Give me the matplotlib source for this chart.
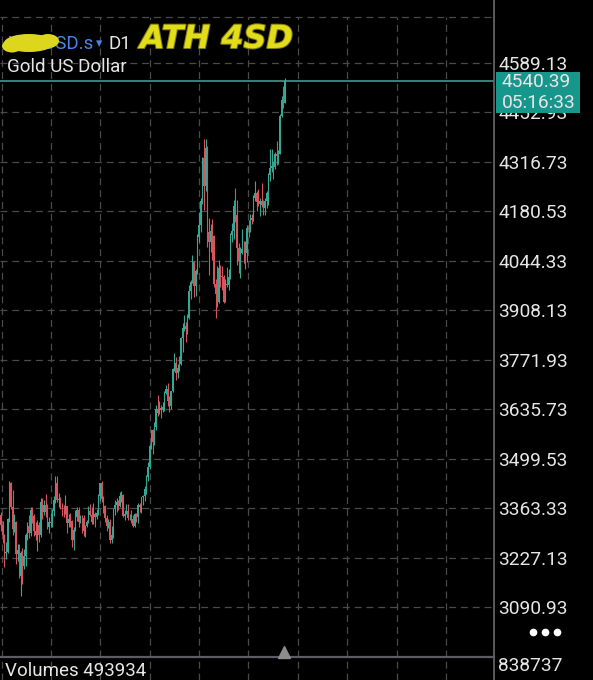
import matplotlib
matplotlib.use('Agg')
import matplotlib.pyplot as plt
from matplotlib.lines import Line2D
from matplotlib.patches import Rectangle, Ellipse
import matplotlib.patheffects as pe

plt.rcParams['font.family'] = ['Roboto', 'DejaVu Sans']
plt.rcParams['lines.scale_dashes'] = False

# daily bars, XAUUSD D1
opens = [3343, 3317, 3288, 3239, 3241, 3334, 3431, 3365, 3306, 3325,
         3236, 3248, 3177, 3240, 3203, 3230, 3290, 3314, 3294, 3357,
         3342, 3301, 3288, 3317, 3289, 3381, 3353, 3372, 3352, 3310,
         3325, 3322, 3354, 3386, 3433, 3385, 3389, 3370, 3369, 3368,
         3368, 3323, 3333, 3328, 3274, 3303, 3338, 3357, 3326, 3337,
         3336, 3301, 3313, 3324, 3355, 3343, 3324, 3347, 3339, 3350,
         3397, 3431, 3387, 3368, 3337, 3314, 3326, 3274, 3289, 3362,
         3373, 3381, 3369, 3397, 3398, 3341, 3348, 3356, 3335, 3336,
         3332, 3315, 3347, 3339, 3371, 3365, 3393, 3397, 3416, 3448,
         3476, 3533, 3578, 3545, 3586, 3636, 3626, 3640, 3634, 3643,
         3679, 3690, 3659, 3644, 3685, 3746, 3763, 3736, 3749, 3760,
         3833, 3858, 3866, 3856, 3887, 3960, 3985, 4040, 3975, 4017,
         4110, 4143, 4209, 4327, 4251, 4356, 4125, 4095, 4126, 4112,
         3981, 3952, 3930, 4024, 4002, 4000, 3932, 3980, 3977, 4000,
         4115, 4127, 4195, 4171, 4080, 4045, 4067, 4078, 4077, 4065,
         4136, 4131, 4163, 4157, 4218, 4232, 4205, 4200, 4208, 4197,
         4190, 4208, 4230, 4280, 4300, 4305, 4302, 4338, 4332, 4339,
         4444, 4488, 4479]
highs = [3353, 3327, 3292, 3269, 3336, 3438, 3435, 3414, 3346, 3327,
         3265, 3264, 3245, 3252, 3250, 3295, 3326, 3345, 3366, 3365,
         3348, 3325, 3330, 3326, 3392, 3392, 3385, 3403, 3375, 3338,
         3349, 3360, 3397, 3451, 3452, 3404, 3395, 3376, 3372, 3398,
         3370, 3348, 3350, 3330, 3310, 3358, 3366, 3365, 3343, 3343,
         3345, 3317, 3330, 3369, 3375, 3366, 3377, 3352, 3361, 3402,
         3433, 3439, 3396, 3373, 3345, 3334, 3334, 3315, 3363, 3385,
         3390, 3385, 3408, 3410, 3401, 3358, 3375, 3374, 3347, 3358,
         3345, 3350, 3351, 3378, 3376, 3394, 3399, 3423, 3453, 3490,
         3540, 3578, 3580, 3599, 3646, 3674, 3658, 3648, 3656, 3685,
         3703, 3707, 3672, 3687, 3749, 3791, 3779, 3761, 3782, 3834,
         3872, 3895, 3876, 3897, 3977, 3991, 4059, 4044, 4022, 4117,
         4179, 4218, 4330, 4379, 4381, 4360, 4161, 4147, 4160, 4115,
         3994, 4030, 4046, 4034, 4030, 4005, 3994, 4027, 4023, 4122,
         4148, 4211, 4245, 4211, 4092, 4083, 4132, 4098, 4099, 4143,
         4156, 4172, 4172, 4226, 4264, 4237, 4241, 4218, 4259, 4213,
         4218, 4236, 4285, 4353, 4351, 4318, 4343, 4375, 4350, 4449,
         4497, 4526, 4549]
lows = [3301, 3268, 3202, 3222, 3239, 3325, 3362, 3288, 3297, 3208,
        3218, 3171, 3120, 3154, 3196, 3205, 3276, 3280, 3287, 3322,
        3285, 3275, 3245, 3271, 3283, 3333, 3343, 3339, 3307, 3294,
        3310, 3311, 3341, 3378, 3380, 3367, 3362, 3341, 3340, 3348,
        3295, 3312, 3310, 3255, 3247, 3299, 3329, 3311, 3323, 3296,
        3287, 3283, 3310, 3321, 3341, 3320, 3319, 3310, 3332, 3345,
        3383, 3381, 3351, 3325, 3301, 3308, 3268, 3268, 3282, 3345,
        3353, 3358, 3367, 3381, 3340, 3331, 3346, 3330, 3331, 3323,
        3311, 3311, 3324, 3321, 3352, 3351, 3371, 3382, 3401, 3437,
        3471, 3526, 3511, 3537, 3577, 3618, 3621, 3611, 3627, 3632,
        3677, 3645, 3627, 3636, 3683, 3741, 3717, 3722, 3742, 3758,
        3793, 3850, 3821, 3843, 3885, 3939, 3983, 3944, 3947, 4009,
        4097, 4123, 4200, 4185, 4236, 4082, 4004, 4068, 4047, 3971,
        3886, 3917, 3929, 3973, 3963, 3929, 3931, 3971, 3964, 3994,
        4096, 4104, 4152, 4032, 4011, 3997, 4063, 4038, 4022, 4040,
        4111, 4123, 4145, 4153, 4210, 4181, 4194, 4167, 4192, 4170,
        4171, 4189, 4197, 4265, 4288, 4270, 4298, 4308, 4310, 4338,
        4440, 4465, 4478]
closes = [3317, 3288, 3239, 3241, 3334, 3431, 3365, 3306, 3325, 3236,
          3248, 3177, 3240, 3203, 3230, 3290, 3314, 3294, 3357, 3342,
          3301, 3288, 3317, 3289, 3381, 3353, 3372, 3352, 3310, 3325,
          3322, 3354, 3386, 3433, 3385, 3389, 3370, 3369, 3368, 3368,
          3323, 3333, 3328, 3274, 3303, 3338, 3357, 3326, 3337, 3336,
          3301, 3313, 3324, 3355, 3343, 3324, 3347, 3339, 3350, 3397,
          3431, 3387, 3368, 3337, 3314, 3326, 3274, 3289, 3362, 3373,
          3381, 3369, 3397, 3398, 3341, 3348, 3356, 3335, 3336, 3332,
          3315, 3347, 3339, 3371, 3365, 3393, 3397, 3416, 3448, 3476,
          3533, 3578, 3545, 3586, 3636, 3626, 3640, 3634, 3643, 3679,
          3690, 3659, 3644, 3685, 3746, 3763, 3736, 3749, 3760, 3833,
          3858, 3866, 3856, 3887, 3960, 3985, 4040, 3975, 4017, 4110,
          4143, 4209, 4327, 4251, 4356, 4125, 4095, 4126, 4112, 3981,
          3952, 3930, 4024, 4002, 4000, 3932, 3980, 3977, 4000, 4115,
          4127, 4195, 4171, 4080, 4045, 4067, 4078, 4077, 4065, 4136,
          4131, 4163, 4157, 4218, 4232, 4205, 4200, 4208, 4197, 4190,
          4208, 4230, 4280, 4300, 4305, 4302, 4338, 4332, 4339, 4444,
          4488, 4479, 4540]

price_ticks = [3090.93, 3227.13, 3363.33, 3499.53, 3635.73, 3771.93,
               3908.13, 4044.33, 4180.53, 4316.73, 4452.93, 4589.13]
last_price = 4540.39
countdown = '05:16:33'
volume_now = 493934
volume_max = 838737

W, H = 593, 680
BULL = '#35a893'
BEAR = '#d9535f'
GRID = '#4a4a4a'
TXT = '#e6e6e6'


def fx(px):
    return px / W


def fy(py):
    return 1 - py / H


fig = plt.figure(figsize=(W / 100, H / 100), dpi=100, facecolor='black')

step = 1.65  # pixels per bar
xlim = (-1 / step, 493 / step)
grid_x = [(1.7 + 49.35 * k - 1) / step for k in range(10)]

# main price pane
ax = fig.add_axes([0, fy(657), fx(494), fy(17) - fy(657)])
ax.set_facecolor('black')
ax.set_xlim(*xlim)
ax.set_ylim(2953.1, 4715.8)
for s in ax.spines.values():
    s.set_visible(False)

for p in price_ticks:
    ax.axhline(p, color=GRID, lw=0.9, dashes=(5, 3.5), zorder=0)
for gx in grid_x:
    ax.axvline(gx, color=GRID, lw=0.9, dashes=(5, 3.5), zorder=0)

xs = list(range(len(closes)))
cols = [BULL if c >= o else BEAR for o, c in zip(opens, closes)]
ax.vlines(xs, lows, highs, colors=cols, lw=0.8, zorder=2)
ax.bar(xs, [abs(c - o) for o, c in zip(opens, closes)],
       bottom=[min(o, c) for o, c in zip(opens, closes)],
       width=0.75, color=cols, lw=0, zorder=2)

ax.axhline(last_price, color='#45a89a', lw=1.1, zorder=3)

ax.yaxis.tick_right()
ax.set_yticks(price_ticks)
ax.set_yticklabels([f'{p:.2f}' for p in price_ticks])
ax.tick_params(axis='y', length=0, pad=3, labelsize=13.8, labelcolor=TXT)
ax.set_xticks([])

# volume pane (only its top strip is visible)
axv = fig.add_axes([0, 0, fx(494), fy(657)])
axv.set_facecolor('black')
axv.set_xlim(*xlim)
for gx in grid_x:
    axv.axvline(gx, color=GRID, lw=0.9, dashes=(5, 3.5))
axv.set_xticks([])
axv.set_yticks([])
for s in axv.spines.values():
    s.set_visible(False)

# frame lines
fig.add_artist(Line2D([0, fx(494)], [fy(17), fy(17)], color=GRID, lw=0.9, dashes=(5, 3.5)))
fig.add_artist(Line2D([fx(494), fx(494)], [0, 1], color='#6a6a6a', lw=1.2))
fig.add_artist(Line2D([0, fx(494)], [fy(657), fy(657)], color='#5c5c66', lw=1.6))
fig.add_artist(Line2D([fx(284)], [fy(652)], marker='^', ms=8, color='#8c8c8c', ls=''))

# current price box
fig.add_artist(Rectangle((fx(496), fy(113)), fx(84), 41 / H, color='#17978b', lw=0))
fig.text(fx(502), fy(82), f'{last_price:.2f}', color=TXT, fontsize=13.8, va='center')
fig.text(fx(502), fy(103), countdown, color=TXT, fontsize=13.8, va='center')

# header
fig.text(fx(7), fy(49), 'XAUUSD.s', color='#4a86e8', fontsize=13.5, va='baseline')
fig.text(fx(96), fy(47), '▾', color='#4a86e8', fontsize=9,
         va='baseline', family=['DejaVu Sans'])
fig.text(fx(108), fy(49), 'D1', color=TXT, fontsize=13.5, va='baseline')
fig.text(fx(7), fy(72.5), 'Gold US Dollar', color=TXT, fontsize=13.5, va='baseline')

# yellow marker scribble over the symbol name
for cx, cy, w, h in [(29, 43, 50, 18), (48, 41, 22, 14), (12, 46, 20, 13)]:
    fig.add_artist(Ellipse((fx(cx), fy(cy)), w / W, h / H, color='#dcd61c',
                           lw=0, zorder=5))
fig.text(fx(140), fy(48), 'ATH 4SD', color='#e2dc1a', fontsize=23,
         fontweight='bold', style='italic', va='baseline', family=['DejaVu Sans'],
         path_effects=[pe.withStroke(linewidth=1.5, foreground='#7c7a10')])

# menu dots
fig.add_artist(Line2D([fx(533), fx(545), fx(557)], [fy(632)] * 3, marker='o',
                      ms=4.5, color='white', ls=''))

# volume labels
fig.text(fx(5), fy(671), f'Volumes {volume_now}', color=TXT, fontsize=13.5, va='center')
fig.text(fx(498), fy(666), f'{volume_max}', color=TXT, fontsize=13.8, va='center')

fig.savefig('out.png', dpi=100, facecolor='black')
plt.close(fig)
